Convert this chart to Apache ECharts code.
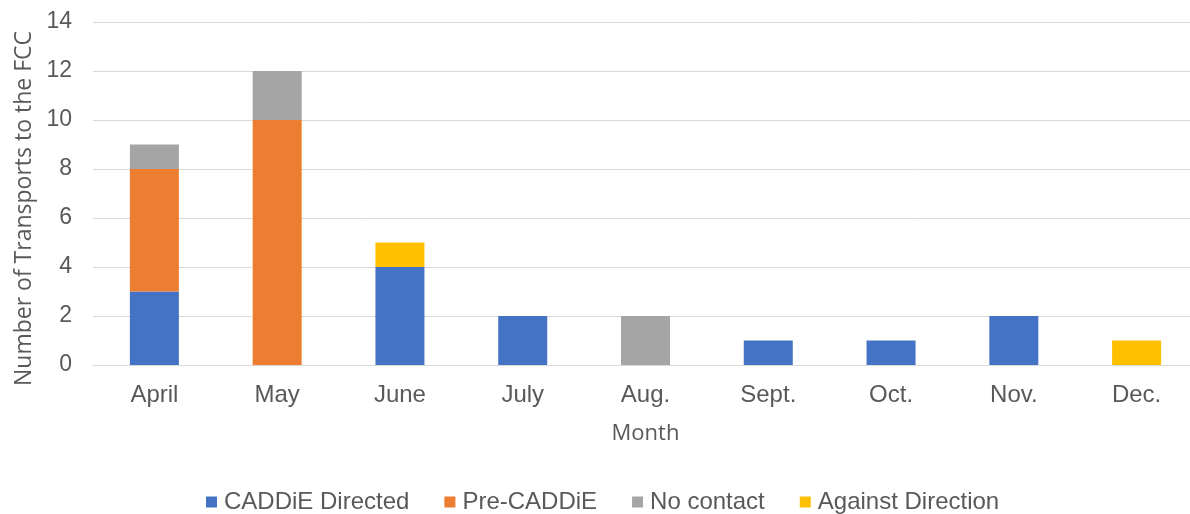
<!DOCTYPE html>
<html>
<head>
<meta charset="utf-8">
<script src="https://cdn.jsdelivr.net/npm/echarts@6/dist/echarts.min.js"></script>
<style>
  html, body { margin: 0; padding: 0; background: #fff; }
  #chart { width: 1190px; height: 514px; }
</style>
</head>
<body>
<div id="chart"></div>
<script>
// data
var months = ['April', 'May', 'June', 'July', 'Aug.', 'Sept.', 'Oct.', 'Nov.', 'Dec.'];
var caddieDirected = [3, 0, 4, 2, 0, 1, 1, 2, 0];
var preCaddie = [5, 10, 0, 0, 0, 0, 0, 0, 0];
var noContact = [1, 2, 0, 0, 2, 0, 0, 0, 0];
var againstDirection = [0, 0, 1, 0, 0, 0, 0, 0, 1];

var textColor = '#595959';
var font = 'Liberation Sans, Arial, sans-serif';
var titleFont = 'Open Sans, sans-serif';

function bar(name, values, color) {
    return {
        name: name,
        type: 'bar',
        stack: 'total',
        barWidth: 49,
        data: values.map(function (v) { return v === 0 ? null : v; }),
        itemStyle: { color: color }
    };
}

var chart = echarts.init(document.getElementById('chart'));
chart.setOption({
    animation: false,
    textStyle: { fontFamily: font, color: textColor },
    legend: {
        top: 485,
        left: 201,
        itemWidth: 11,
        itemHeight: 11,
        itemGap: 35,
        icon: 'rect',
        textStyle: { fontSize: 24, color: textColor, fontFamily: font, padding: [0, 0, 0, 2] }
    },
    grid: {
        left: 93,
        top: 22,
        width: 1105,
        height: 343,
        outerBoundsMode: 'none'
    },
    xAxis: {
        type: 'category',
        data: months,
        name: 'Month',
        nameLocation: 'middle',
        nameGap: 58,
        nameTextStyle: { fontSize: 22, color: textColor, fontFamily: titleFont },
        axisLine: { lineStyle: { color: '#d9d9d9', width: 1 } },
        axisTick: { show: false },
        axisLabel: { fontSize: 24, color: textColor, margin: 18 }
    },
    yAxis: {
        type: 'value',
        min: 0,
        max: 14,
        interval: 2,
        name: 'Number of Transports to the FCC',
        nameLocation: 'middle',
        nameGap: 57,
        nameTextStyle: { fontSize: 23, color: textColor, fontFamily: titleFont, padding: [0, 30, 0, 0] },
        axisLine: { show: false },
        axisTick: { show: false },
        axisLabel: { fontSize: 23, color: textColor, margin: 21 },
        splitLine: { lineStyle: { color: '#d9d9d9', width: 1 } }
    },
    series: [
        bar('CADDiE Directed', caddieDirected, '#4472C4'),
        bar('Pre-CADDiE', preCaddie, '#ED7D31'),
        bar('No contact', noContact, '#A5A5A5'),
        bar('Against Direction', againstDirection, '#FFC000')
    ]
});
</script>
</body>
</html>
